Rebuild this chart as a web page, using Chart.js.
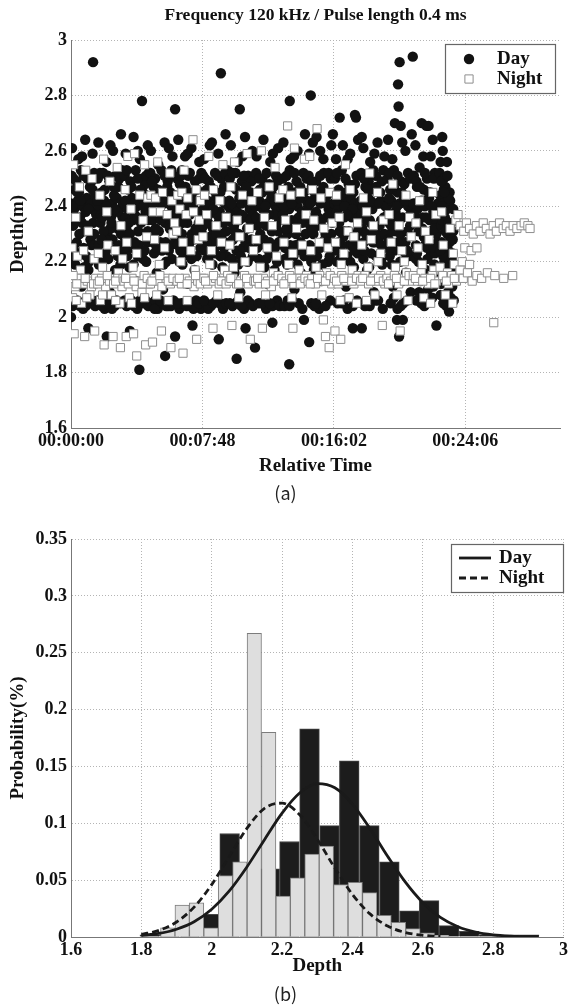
<!DOCTYPE html>
<html>
<head>
<meta charset="utf-8">
<title>Depth distribution</title>
<script src="https://cdn.jsdelivr.net/npm/chart.js@4.4.1/dist/chart.umd.min.js"></script>
<style>
  html, body { margin: 0; padding: 0; background: #fff; }
  body { width: 571px; height: 1008px; position: relative; overflow: hidden; }
  .panel { position: absolute; left: 0; width: 571px; }
  #wrapA { top: 0; height: 500px; }
  #wrapB { top: 500px; height: 508px; }
  .tag { position: absolute; left: 0; width: 571px; text-align: center; line-height: 20px;
         font-family: "Noto Sans CJK KR", "Noto Sans", sans-serif; font-size: 18px; color: #222; }
</style>
</head>
<body>
<div class="panel" id="wrapA"><canvas id="scatterChart"></canvas></div>
<div class="panel" id="wrapB"><canvas id="histChart"></canvas></div>
<div class="tag" style="top:482px">(a)</div>
<div class="tag" style="top:983px">(b)</div>

<script>
// ---- (a) echo depth over time ----
const timeTickPos = [0, 250, 500, 750];
const timeTickLabels = ['00:00:00', '00:07:48', '00:16:02', '00:24:06'];

// [time, depth]
const dayPoints = [
  [2,2.61],[14,2.57],[27,2.64],[41,2.59],[1,2.51],[10,2.49],[19,2.53],[31,2.50],[44,2.52],[7,2.46],[36,2.47],
  [0,2.41],[6,2.39],[13,2.42],[22,2.40],[30,2.43],[38,2.41],[47,2.38],[4,2.33],[17,2.36],[26,2.31],[42,2.34],
  [0,2.22],[11,2.27],[24,2.25],[37,2.28],[8,2.19],[33,2.17],[20,2.11],[0,2.00],[3,2.04],[12,2.06],[23,2.03],
  [35,2.05],[46,2.04],[33,1.96],[42,2.92],
  [5,2.37],[16,2.30],[28,2.38],[39,2.26],[46,2.44],[9,2.23],[21,2.34],[34,2.20],[44,2.30],[15,2.45],[25,2.18],
  [8,2.05],[29,2.06],
  [3,2.40],[18,2.42],[33,2.39],[5,2.50],[24,2.51],[39,2.49],[12,2.45],[41,2.46],[10,2.35],[31,2.33],[48,2.37],
  [6,2.24],[29,2.22],[45,2.26],[17,2.04],[28,2.04],[40,2.06],[21,2.58],
  [52,2.63],[67,2.56],[80,2.60],[95,2.66],[51,2.50],[61,2.52],[73,2.49],[85,2.51],[97,2.53],[58,2.45],[90,2.47],
  [54,2.40],[63,2.42],[70,2.38],[78,2.41],[87,2.43],[93,2.39],[99,2.41],[56,2.34],[69,2.30],[76,2.36],[89,2.32],
  [53,2.26],[65,2.23],[79,2.28],[96,2.24],[60,2.20],[84,2.17],[74,2.09],[55,2.05],[64,2.03],[72,2.06],[83,2.04],
  [94,2.05],[68,1.93],
  [57,2.37],[66,2.28],[75,2.32],[82,2.44],[91,2.26],[98,2.36],[53,2.19],[62,2.31],[71,2.21],[88,2.38],[94,2.19],
  [59,2.04],[78,2.03],
  [50,2.42],[67,2.40],[83,2.39],[55,2.52],[70,2.51],[92,2.50],[64,2.46],[81,2.47],[60,2.36],[77,2.34],[95,2.30],
  [58,2.28],[74,2.25],[89,2.22],[51,2.06],[68,2.05],[87,2.06],[75,2.62],
  [104,2.59],[119,2.65],[131,2.57],[146,2.62],[135,2.78],[102,2.51],[113,2.49],[123,2.53],[136,2.50],[148,2.52],
  [109,2.46],[141,2.48],[101,2.41],[108,2.39],[116,2.43],[125,2.40],[133,2.42],[142,2.38],[149,2.41],[105,2.32],
  [118,2.35],[128,2.31],[139,2.36],[103,2.28],[114,2.25],[127,2.22],[145,2.27],[111,2.18],[137,2.21],[124,2.13],
  [106,2.04],[115,2.06],[126,2.03],[138,2.05],[147,2.04],[130,1.81],[112,1.95],
  [104,2.36],[112,2.30],[121,2.37],[129,2.26],[137,2.45],[146,2.31],[107,2.22],[119,2.19],[133,2.34],[143,2.20],
  [149,2.37],[110,2.05],[131,2.06],
  [103,2.42],[120,2.41],[138,2.40],[106,2.53],[127,2.50],[143,2.51],[115,2.47],[132,2.46],[110,2.34],[126,2.36],
  [147,2.35],[101,2.25],[121,2.27],[140,2.24],[102,2.06],[120,2.04],[142,2.06],[127,2.60],
  [152,2.60],[166,2.55],[178,2.63],[193,2.58],[198,2.75],[151,2.52],[160,2.50],[172,2.53],[184,2.49],[196,2.51],
  [157,2.47],[189,2.45],[153,2.42],[161,2.40],[168,2.38],[176,2.41],[183,2.43],[191,2.40],[199,2.39],[155,2.35],
  [167,2.31],[179,2.34],[194,2.36],[158,2.23],[170,2.27],[186,2.24],[197,2.29],[163,2.16],[181,2.20],[175,2.10],
  [154,2.05],[165,2.03],[174,2.05],[185,2.04],[195,2.06],[179,1.86],[198,1.93],
  [152,2.29],[159,2.37],[171,2.35],[180,2.27],[188,2.32],[197,2.44],[163,2.25],[176,2.19],[186,2.37],[192,2.21],
  [155,2.44],[160,2.06],[181,2.04],
  [157,2.41],[172,2.43],[187,2.41],[154,2.49],[178,2.51],[191,2.53],[166,2.46],[183,2.47],[161,2.32],[175,2.36],
  [199,2.33],[156,2.27],[173,2.24],[190,2.26],[159,2.03],[170,2.06],[190,2.04],[186,2.61],
  [204,2.64],[217,2.58],[229,2.61],[244,2.56],[202,2.50],[211,2.53],[223,2.51],[236,2.49],[248,2.52],[207,2.48],
  [240,2.46],[201,2.41],[209,2.43],[216,2.39],[225,2.42],[232,2.40],[241,2.38],[249,2.42],[205,2.33],[219,2.36],
  [230,2.30],[243,2.34],[203,2.26],[214,2.22],[227,2.28],[246,2.25],[212,2.19],[235,2.17],[222,2.12],[206,2.03],
  [215,2.05],[226,2.04],[238,2.06],[247,2.03],[231,1.97],
  [203,2.37],[211,2.30],[221,2.34],[229,2.21],[237,2.32],[245,2.38],[206,2.20],[218,2.25],[233,2.28],[248,2.31],
  [214,2.45],[210,2.05],[233,2.03],
  [205,2.41],[221,2.40],[237,2.42],[209,2.51],[226,2.52],[244,2.50],[218,2.47],[231,2.45],[212,2.34],[226,2.37],
  [240,2.31],[208,2.24],[224,2.26],[239,2.22],[202,2.05],[220,2.04],[243,2.05],[222,2.59],
  [253,2.57],[268,2.63],[280,2.59],[294,2.66],[285,2.88],[251,2.51],[262,2.49],[274,2.52],[286,2.50],[298,2.53],
  [258,2.46],[291,2.47],[252,2.39],[260,2.42],[267,2.40],[276,2.43],[283,2.38],[292,2.41],[299,2.40],[256,2.36],
  [270,2.32],[282,2.35],[295,2.31],[254,2.24],[265,2.29],[279,2.26],[296,2.22],[261,2.21],[288,2.18],[273,2.14],
  [281,1.92],[257,2.05],[266,2.04],[277,2.06],[289,2.03],
  [252,2.33],[262,2.37],[271,2.27],[278,2.37],[287,2.30],[297,2.36],[259,2.21],[269,2.19],[284,2.22],[293,2.27],
  [275,2.45],[261,2.03],[283,2.05],
  [256,2.41],[271,2.39],[288,2.42],[255,2.50],[279,2.51],[293,2.52],[266,2.47],[284,2.45],[261,2.34],[276,2.30],
  [290,2.34],[258,2.27],[274,2.23],[291,2.25],[253,2.06],[271,2.05],[295,2.05],[264,2.62],
  [304,2.62],[317,2.56],[331,2.65],[345,2.60],[321,2.75],[302,2.50],[313,2.52],[325,2.49],[337,2.51],[348,2.50],
  [309,2.47],[342,2.45],[301,2.42],[308,2.40],[316,2.38],[324,2.41],[333,2.43],[340,2.39],[349,2.41],[306,2.34],
  [319,2.30],[330,2.36],[344,2.33],[303,2.27],[315,2.24],[328,2.29],[346,2.22],[311,2.16],[336,2.20],[322,2.09],
  [307,2.04],[318,2.06],[329,2.03],[341,2.05],[315,1.85],[332,1.96],
  [302,2.37],[311,2.31],[320,2.35],[327,2.25],[335,2.32],[346,2.37],[306,2.21],[318,2.19],[332,2.27],[343,2.28],
  [325,2.45],[313,2.05],[336,2.06],
  [305,2.41],[320,2.43],[338,2.41],[307,2.52],[329,2.51],[343,2.49],[314,2.46],[333,2.47],[310,2.33],[325,2.37],
  [341,2.35],[308,2.28],[323,2.22],[339,2.25],[302,2.05],[324,2.04],[346,2.04],[326,2.58],
  [353,2.58],[366,2.64],[379,2.56],[394,2.61],[352,2.52],[364,2.50],[377,2.48],[390,2.51],[359,2.46],[385,2.47],
  [351,2.40],[358,2.42],[365,2.39],[373,2.41],[381,2.43],[389,2.40],[398,2.38],[355,2.33],[369,2.36],[382,2.31],
  [396,2.35],[354,2.25],[367,2.28],[380,2.23],[395,2.27],[362,2.20],[387,2.17],[374,2.12],[357,2.05],[371,2.03],
  [392,2.06],[350,1.89],[383,1.98],
  [352,2.36],[360,2.30],[371,2.33],[378,2.27],[386,2.37],[394,2.31],[357,2.21],[368,2.18],[376,2.24],[392,2.20],
  [364,2.45],[383,2.04],
  [355,2.41],[370,2.40],[387,2.42],[358,2.50],[372,2.52],[393,2.49],[366,2.47],[381,2.45],[362,2.34],[375,2.37],
  [390,2.33],[359,2.26],[372,2.21],[388,2.25],[363,2.05],[378,2.05],[397,2.04],[384,2.59],
  [404,2.63],[418,2.57],[431,2.60],[445,2.66],[416,2.78],[403,2.50],[416,2.53],[429,2.49],[442,2.52],[409,2.45],
  [436,2.47],[401,2.41],[408,2.43],[415,2.39],[423,2.42],[431,2.40],[439,2.38],[448,2.42],[405,2.35],[419,2.32],
  [433,2.36],[446,2.30],[402,2.28],[414,2.24],[427,2.26],[444,2.22],[411,2.19],[437,2.16],[425,2.10],[406,2.04],
  [421,2.06],[440,2.03],[415,1.83],[443,1.99],
  [403,2.37],[412,2.30],[420,2.35],[428,2.30],[437,2.27],[445,2.37],[407,2.21],[417,2.26],[431,2.19],[442,2.25],
  [425,2.45],[412,2.06],
  [405,2.40],[420,2.41],[435,2.43],[410,2.51],[425,2.52],[448,2.50],[413,2.47],[443,2.45],[410,2.32],[425,2.34],
  [440,2.34],[407,2.25],[423,2.22],[436,2.24],[416,2.04],[433,2.05],[424,2.58],
  [453,2.59],[467,2.65],[480,2.57],[495,2.62],[456,2.80],[460,2.63],[452,2.51],[466,2.49],[481,2.52],[494,2.50],
  [458,2.47],[487,2.44],[451,2.40],[459,2.42],[466,2.38],[474,2.41],[482,2.43],[490,2.39],[499,2.41],[455,2.33],
  [470,2.36],[484,2.30],[497,2.34],[454,2.26],[468,2.22],[483,2.28],[496,2.25],[462,2.17],[489,2.20],[476,2.13],
  [457,2.05],[472,2.03],[493,2.06],[453,1.91],[498,2.66],
  [452,2.36],[461,2.30],[469,2.33],[478,2.27],[486,2.36],[495,2.30],[457,2.20],[466,2.25],[478,2.19],[492,2.22],
  [471,2.45],[463,2.04],
  [455,2.41],[471,2.43],[486,2.41],[457,2.49],[474,2.51],[490,2.52],[463,2.45],[480,2.47],[459,2.31],[475,2.34],
  [491,2.37],[460,2.23],[474,2.25],[488,2.27],[466,2.05],[484,2.04],[474,2.60],
  [504,2.57],[517,2.62],[531,2.59],[546,2.64],[511,2.72],[540,2.73],[542,2.72],[553,2.65],[502,2.50],[515,2.53],
  [528,2.48],[543,2.51],[509,2.46],[537,2.45],[501,2.41],[508,2.39],[516,2.42],[524,2.40],[532,2.43],[540,2.41],
  [548,2.38],[506,2.35],[520,2.31],[534,2.36],[547,2.32],[503,2.24],[518,2.29],[529,2.26],[545,2.23],[512,2.21],
  [538,2.18],[523,2.11],[536,1.96],[553,1.96],[507,2.05],[526,2.03],[544,2.06],
  [503,2.37],[511,2.31],[520,2.36],[528,2.31],[537,2.26],[546,2.36],[506,2.20],[515,2.26],[531,2.20],[541,2.28],
  [522,2.45],[515,2.05],
  [505,2.42],[520,2.40],[536,2.39],[506,2.52],[522,2.50],[540,2.48],[513,2.44],[531,2.47],[510,2.34],[525,2.37],
  [542,2.30],[509,2.27],[525,2.22],[539,2.24],[519,2.06],[536,2.04],[526,2.57],
  [556,2.61],[569,2.56],[583,2.63],[596,2.58],[552,2.52],[566,2.49],[580,2.51],[594,2.53],[560,2.47],[588,2.45],
  [551,2.42],[558,2.40],[565,2.43],[573,2.39],[581,2.41],[589,2.42],[598,2.40],[554,2.32],[568,2.35],[582,2.30],
  [595,2.36],[557,2.27],[571,2.23],[585,2.28],[597,2.25],[563,2.17],[590,2.21],[576,2.09],[586,2.14],[559,2.04],
  [578,2.06],[593,2.03],
  [552,2.37],[561,2.30],[570,2.34],[578,2.27],[587,2.33],[596,2.30],[556,2.21],[567,2.18],[580,2.22],[592,2.19],
  [575,2.46],[568,2.04],
  [555,2.40],[570,2.42],[586,2.41],[557,2.50],[575,2.53],[591,2.49],[565,2.46],[580,2.47],[561,2.35],[575,2.31],
  [590,2.35],[558,2.24],[574,2.27],[590,2.26],[566,2.05],[584,2.06],[577,2.59],
  [603,2.64],[616,2.70],[622,2.84],[625,2.92],[623,2.76],[627,2.69],[636,2.60],[648,2.66],[611,2.57],[602,2.50],
  [614,2.53],[628,2.49],[641,2.52],[607,2.46],[634,2.48],[601,2.40],[609,2.42],[617,2.38],[625,2.41],[633,2.43],
  [641,2.40],[649,2.39],[605,2.34],[619,2.31],[631,2.36],[645,2.33],[604,2.28],[615,2.24],[629,2.27],[643,2.22],
  [610,2.19],[637,2.16],[612,2.11],[630,2.13],[646,2.09],[608,2.05],[621,2.03],[639,2.06],[620,1.99],[631,1.99],
  [624,1.93],
  [602,2.37],[611,2.31],[620,2.35],[627,2.30],[636,2.27],[645,2.37],[606,2.22],[616,2.15],[626,2.20],[640,2.24],
  [621,2.45],[632,2.05],
  [605,2.43],[620,2.40],[636,2.42],[606,2.52],[621,2.51],[645,2.50],[614,2.47],[629,2.45],[609,2.33],[624,2.36],
  [640,2.31],[606,2.25],[622,2.27],[636,2.23],[614,2.07],[627,2.04],[630,2.63],
  [650,2.94],[667,2.70],[676,2.69],[680,2.69],[655,2.62],[670,2.58],[688,2.64],[652,2.51],[663,2.54],[677,2.50],
  [692,2.52],[658,2.47],[684,2.45],[651,2.41],[659,2.39],[666,2.42],[673,2.40],[681,2.43],[689,2.38],[698,2.41],
  [654,2.36],[668,2.32],[682,2.35],[695,2.30],[656,2.26],[671,2.29],[685,2.23],[697,2.27],[661,2.20],[675,2.17],
  [691,2.19],[664,2.13],[679,2.10],[694,2.15],[657,2.06],[672,2.04],[687,2.07],[695,1.97],
  [652,2.37],[661,2.31],[669,2.36],[677,2.25],[686,2.31],[696,2.34],[656,2.21],[667,2.16],[678,2.21],[692,2.23],
  [671,2.46],[662,2.09],[689,2.11],
  [655,2.41],[670,2.42],[686,2.40],[657,2.49],[673,2.52],[690,2.50],[664,2.47],[680,2.45],[660,2.34],[675,2.36],
  [691,2.32],[658,2.23],[673,2.26],[690,2.25],[666,2.05],[682,2.06],[684,2.58],
  [706,2.65],[707,2.60],[703,2.56],[701,2.52],[712,2.47],[709,2.50],[702,2.44],[708,2.41],[715,2.39],[721,2.42],
  [711,2.36],[704,2.33],[716,2.30],[723,2.34],[705,2.27],[718,2.24],[726,2.28],[710,2.20],[722,2.17],[713,2.14],
  [725,2.11],[703,2.08],[714,2.04],[719,2.02],[728,2.06],
  [703,2.37],[712,2.31],[720,2.27],[708,2.22],[716,2.18],[724,2.21],[704,2.12],[717,2.09],[709,2.46],[720,2.45],
  [705,2.40],[718,2.43],[727,2.39],[704,2.49],[716,2.51],[710,2.45],[706,2.35],[718,2.34],[727,2.31],[702,2.24],
  [713,2.26],[726,2.23],[708,2.05],[722,2.07],[715,2.56]
];

const nightPoints = [
  [5,2.55],[28,2.53],[16,2.47],[40,2.50],[9,2.36],[33,2.31],[2,2.25],[12,2.22],[24,2.24],[44,2.21],[18,2.17],
  [1,2.13],[8,2.11],[15,2.14],[23,2.12],[31,2.13],[39,2.11],[47,2.14],[3,2.07],[20,2.05],[36,2.08],[6,1.94],
  [26,1.93],[45,1.95],[4,2.15],[11,2.12],[27,2.14],[43,2.12],[10,2.06],[30,2.07],
  [62,2.57],[88,2.54],[74,2.49],[55,2.44],[68,2.38],[95,2.33],[52,2.23],[70,2.26],[84,2.24],[98,2.21],[60,2.18],
  [90,2.16],[51,2.12],[58,2.14],[66,2.11],[73,2.13],[81,2.12],[89,2.14],[97,2.11],[56,2.06],[77,2.08],[93,2.05],
  [63,1.90],[80,1.93],[94,1.89],[54,2.13],[69,2.15],[85,2.13],[99,2.14],[60,2.08],[85,2.06],
  [108,2.58],[121,2.59],[140,2.55],[103,2.46],[131,2.44],[146,2.43],[114,2.39],[137,2.35],[106,2.27],[125,2.23],
  [144,2.29],[118,2.18],[101,2.13],[109,2.12],[116,2.14],[124,2.11],[132,2.13],[139,2.15],[148,2.12],[111,2.07],
  [135,2.09],[105,1.93],[125,1.86],[142,1.90],[119,1.94],[104,2.14],[120,2.13],[136,2.12],[145,2.14],[115,2.05],
  [140,2.07],
  [165,2.56],[188,2.52],[152,2.44],[161,2.43],[174,2.45],[192,2.42],[156,2.38],[170,2.38],[183,2.37],[197,2.34],
  [159,2.28],[178,2.25],[194,2.30],[168,2.19],[151,2.12],[158,2.14],[166,2.13],[173,2.11],[181,2.14],[189,2.12],
  [198,2.13],[163,2.08],[185,2.06],[155,1.91],[172,1.95],[190,1.89],[154,2.13],[169,2.15],[185,2.13],[194,2.14],
  [232,2.64],[215,2.53],[203,2.44],[211,2.45],[222,2.43],[238,2.46],[246,2.42],[207,2.39],[219,2.37],[233,2.38],
  [244,2.35],[201,2.31],[213,2.27],[228,2.24],[242,2.28],[209,2.20],[236,2.17],[202,2.13],[210,2.12],[217,2.14],
  [225,2.13],[234,2.11],[241,2.13],[249,2.14],[221,2.06],[213,1.87],[239,1.92],[206,2.14],[221,2.12],[237,2.15],
  [246,2.12],
  [262,2.58],[289,2.55],[254,2.44],[271,2.46],[283,2.42],[258,2.37],[276,2.33],[295,2.36],[251,2.29],[267,2.24],
  [286,2.27],[264,2.19],[292,2.17],[253,2.14],[260,2.12],[268,2.13],[275,2.14],[282,2.12],[290,2.13],[298,2.15],
  [279,2.08],[270,1.96],[256,2.13],[271,2.15],[286,2.13],[295,2.12],
  [311,2.56],[335,2.59],[304,2.47],[326,2.44],[344,2.42],[316,2.35],[339,2.32],[302,2.26],[321,2.29],[347,2.24],
  [309,2.18],[331,2.20],[301,2.13],[308,2.14],[315,2.12],[323,2.13],[330,2.15],[337,2.12],[345,2.14],[319,2.07],
  [306,1.97],[341,1.92],[304,2.14],[319,2.12],[334,2.14],[348,2.13],
  [362,2.60],[388,2.54],[355,2.45],[377,2.47],[396,2.43],[368,2.36],[383,2.33],[352,2.28],[373,2.25],[391,2.22],
  [360,2.18],[385,2.16],[351,2.13],[358,2.12],[366,2.14],[374,2.13],[381,2.11],[389,2.14],[397,2.13],[370,2.08],
  [364,1.96],[355,2.14],[370,2.12],[385,2.13],[394,2.15],
  [412,2.69],[425,2.61],[444,2.57],[403,2.46],[418,2.44],[436,2.45],[408,2.35],[429,2.32],[447,2.37],[405,2.27],
  [422,2.23],[440,2.26],[414,2.19],[434,2.17],[401,2.14],[409,2.13],[416,2.15],[424,2.12],[432,2.14],[439,2.13],
  [448,2.15],[420,2.07],[422,1.96],[405,2.12],[420,2.14],[436,2.12],[445,2.14],
  [468,2.68],[454,2.58],[459,2.46],[475,2.43],[492,2.45],[462,2.35],[481,2.32],[497,2.34],[456,2.24],[472,2.27],
  [489,2.25],[466,2.18],[486,2.16],[451,2.13],[458,2.14],[465,2.12],[473,2.15],[480,2.13],[488,2.14],[496,2.12],
  [477,2.08],[480,1.99],[484,1.93],[491,1.89],[455,2.12],[469,2.14],[484,2.13],[493,2.15],
  [522,2.55],[505,2.44],[531,2.46],[510,2.36],[527,2.31],[545,2.34],[503,2.27],[519,2.23],[538,2.29],[514,2.19],
  [535,2.17],[501,2.14],[508,2.12],[515,2.15],[523,2.13],[530,2.14],[538,2.12],[546,2.15],[512,2.06],[529,2.07],
  [543,2.05],[502,1.95],[513,1.92],[505,2.13],[519,2.14],[534,2.13],[543,2.14],
  [568,2.52],[556,2.43],[583,2.45],[562,2.38],[575,2.33],[594,2.35],[553,2.26],[571,2.28],[589,2.23],[565,2.18],
  [584,2.20],[551,2.13],[559,2.15],[566,2.12],[574,2.14],[581,2.13],[589,2.15],[597,2.12],[562,2.06],[578,2.08],
  [592,1.97],[555,2.14],[570,2.13],[585,2.14],[594,2.13],
  [612,2.48],[637,2.44],[605,2.37],[624,2.33],[644,2.36],[609,2.27],[629,2.24],[647,2.29],[617,2.18],[634,2.20],
  [601,2.14],[608,2.13],[615,2.15],[623,2.12],[630,2.14],[638,2.16],[646,2.13],[620,2.08],[641,2.06],[626,1.95],
  [604,2.12],[619,2.14],[634,2.13],[643,2.15],
  [663,2.42],[688,2.45],[656,2.34],[674,2.31],[694,2.37],[660,2.25],[681,2.28],[668,2.19],[690,2.17],[651,2.15],
  [659,2.13],[666,2.16],[673,2.14],[680,2.12],[687,2.15],[695,2.13],[671,2.07],[684,2.05],[655,2.14],[669,2.13],
  [684,2.14],[692,2.12],
  [705,2.38],[721,2.32],[732,2.35],[708,2.26],[727,2.23],[702,2.18],[716,2.16],[729,2.19],[711,2.14],[718,2.12],
  [724,2.15],[733,2.13],[712,2.08],[726,2.05],[707,2.15],[714,2.13],[729,2.14],
  [736,2.37],[740,2.33],[747,2.31],[752,2.34],[758,2.32],[765,2.30],[771,2.33],[778,2.31],[784,2.34],[790,2.32],
  [797,2.30],[803,2.33],[809,2.31],[815,2.34],[822,2.32],[828,2.33],[835,2.31],[841,2.33],[848,2.32],[856,2.33],
  [862,2.34],[869,2.33],[873,2.32],[749,2.25],[761,2.24],[772,2.25],[740,2.17],[746,2.14],[754,2.16],[763,2.13],
  [772,2.15],[781,2.14],[792,2.16],[806,2.15],[823,2.14],[840,2.15],[744,2.20],[758,2.19],[804,1.98]
];

// ---- (b) depth histograms with fitted curves ----
const dayBinCenters = [1.824, 1.881, 1.938, 1.995, 2.051, 2.108, 2.165, 2.221, 2.278, 2.335,
                       2.391, 2.448, 2.505, 2.562, 2.618, 2.675, 2.732, 2.788, 2.845, 2.902];
const dayProb = [0.002, 0.004, 0.006, 0.020, 0.091, 0.045, 0.060, 0.084, 0.183, 0.098,
                 0.155, 0.098, 0.066, 0.023, 0.032, 0.010, 0.005, 0.002, 0.002, 0.002];

const nightBinCenters = [1.875, 1.916, 1.957, 1.998, 2.039, 2.080, 2.121, 2.162, 2.203, 2.244,
                         2.285, 2.326, 2.367, 2.408, 2.449, 2.490, 2.531, 2.572, 2.613, 2.654];
const nightProb = [0.008, 0.028, 0.030, 0.008, 0.054, 0.066, 0.267, 0.180, 0.036, 0.052,
                   0.073, 0.080, 0.046, 0.048, 0.039, 0.019, 0.013, 0.0074, 0.0036, 0.0015];

const dayFitDepth = [1.80, 1.85, 1.90, 1.95, 2.00, 2.05, 2.10, 2.15, 2.20, 2.25, 2.30, 2.35,
                     2.40, 2.45, 2.50, 2.55, 2.60, 2.65, 2.70, 2.75, 2.80, 2.85, 2.90, 2.93];
const dayFit = [0.0013, 0.0031, 0.0068, 0.0134, 0.0244, 0.0405, 0.0616, 0.0856, 0.1089, 0.1266, 0.1348, 0.1312,
                0.1169, 0.0953, 0.0710, 0.0484, 0.0302, 0.0172, 0.0090, 0.0043, 0.0019, 0.0008, 0.0003, 0.0002];

const nightFitDepth = [1.80, 1.85, 1.90, 1.95, 2.00, 2.05, 2.10, 2.15, 2.20, 2.25,
                       2.30, 2.35, 2.40, 2.45, 2.50, 2.55, 2.60, 2.65];
const nightFit = [0.0023, 0.0058, 0.0132, 0.0263, 0.0461, 0.0709, 0.0955, 0.1132, 0.1177, 0.1075,
                  0.0861, 0.0606, 0.0374, 0.0203, 0.0097, 0.0040, 0.0015, 0.0005];

const serif = "'Liberation Serif', 'Times New Roman', serif";
const tickFont = { family: serif, size: 18, weight: 'bold' };
const titleFont = { family: serif, size: 19, weight: 'bold' };
const gridColor = '#b4b4b4';
const axisColor = '#777';

const plotTitle = {
  id: 'plotTitle',
  afterDraw(chart, args, opts) {
    if (!opts.text) return;
    const { ctx, chartArea } = chart;
    ctx.save();
    ctx.font = `bold ${opts.size}px ${serif}`;
    ctx.fillStyle = '#111';
    ctx.textAlign = 'center';
    ctx.textBaseline = 'middle';
    ctx.fillText(opts.text, (chartArea.left + chartArea.right) / 2, opts.y);
    ctx.restore();
  }
};

// legend in a framed box inside the plot, like the MATLAB one
const boxLegend = {
  id: 'boxLegend',
  afterDraw(chart, args, opts) {
    const ctx = chart.ctx;
    ctx.save();
    ctx.fillStyle = '#fff';
    ctx.fillRect(opts.left, opts.top, opts.width, opts.height);
    ctx.strokeStyle = '#666';
    ctx.lineWidth = 1.2;
    ctx.strokeRect(opts.left + 0.5, opts.top + 0.5, opts.width, opts.height);
    ctx.font = `bold ${opts.size}px ${serif}`;
    ctx.textBaseline = 'middle';
    chart.data.datasets.filter(ds => ds.inLegend).forEach((ds, i) => {
      const y = opts.top + opts.firstRow + i * opts.rowGap;
      const mx = opts.left + opts.markerX;
      if (ds.type === 'line') {
        ctx.beginPath();
        ctx.setLineDash(ds.borderDash || []);
        ctx.lineWidth = ds.borderWidth;
        ctx.strokeStyle = ds.borderColor;
        ctx.moveTo(mx - opts.lineHalf, y);
        ctx.lineTo(mx + opts.lineHalf, y);
        ctx.stroke();
        ctx.setLineDash([]);
      } else {
        ctx.fillStyle = ds.backgroundColor;
        ctx.strokeStyle = ds.borderColor;
        ctx.lineWidth = ds.borderWidth || 1;
        Chart.helpers.drawPoint(ctx, { pointStyle: ds.pointStyle, radius: ds.pointRadius, borderWidth: ds.borderWidth || 0 }, mx, y);
      }
      ctx.fillStyle = '#111';
      ctx.fillText(ds.label, opts.left + opts.textX, y);
    });
    ctx.restore();
  }
};

const numLabel = v => String(+Number(v).toFixed(2));

new Chart(document.getElementById('scatterChart'), {
  type: 'scatter',
  data: {
    datasets: [
      {
        label: 'Day', inLegend: true,
        data: dayPoints.map(p => ({ x: p[0], y: p[1] })),
        pointStyle: 'circle', pointRadius: 5.2,
        backgroundColor: '#121212', borderColor: '#121212', borderWidth: 0,
        order: 1
      },
      {
        label: 'Night', inLegend: true,
        data: nightPoints.map(p => ({ x: p[0], y: p[1] })),
        pointStyle: 'rect', pointRadius: 5.8,
        backgroundColor: '#fff', borderColor: '#8e8e8e', borderWidth: 1,
        order: 0
      }
    ]
  },
  options: {
    responsive: true,
    maintainAspectRatio: false,
    animation: false,
    events: [],
    layout: { padding: { top: 40, right: 11, left: 0, bottom: 0 } },
    scales: {
      x: {
        type: 'linear', min: 0, max: 930,
        afterBuildTicks: s => { s.ticks = timeTickPos.map(v => ({ value: v })); },
        afterFit: s => { s.height = 72; },
        ticks: { callback: (v, i) => timeTickLabels[i], font: tickFont, color: '#111', padding: 3, maxRotation: 0, autoSkip: false },
        grid: { color: gridColor, drawTicks: false },
        border: { color: axisColor, dash: [1, 2] },
        title: { display: true, text: 'Relative Time', font: titleFont, color: '#111', padding: { top: 0, bottom: 23 } }
      },
      y: {
        min: 1.6, max: 3,
        afterFit: s => { s.width = 71; },
        ticks: { stepSize: 0.2, callback: numLabel, font: tickFont, color: '#111', padding: 4 },
        grid: { color: gridColor, drawTicks: false },
        border: { color: axisColor, dash: [1, 2] },
        title: { display: true, text: 'Depth(m)', font: titleFont, color: '#111', padding: { top: 7, bottom: 0 } }
      }
    },
    plugins: {
      legend: { display: false },
      tooltip: { enabled: false },
      plotTitle: { text: 'Frequency 120 kHz / Pulse length 0.4 ms', size: 17.5, y: 15 },
      boxLegend: { left: 445, top: 44, width: 110, height: 49, size: 19, firstRow: 15, rowGap: 20, markerX: 24, textX: 52, lineHalf: 16 }
    }
  },
  plugins: [plotTitle, boxLegend]
});

new Chart(document.getElementById('histChart'), {
  type: 'bar',
  data: {
    datasets: [
      {
        type: 'line', label: 'Day', inLegend: true, xAxisID: 'x',
        data: dayFitDepth.map((d, i) => ({ x: d, y: dayFit[i] })),
        borderColor: '#1a1a1a', borderWidth: 2.8, pointRadius: 0,
        cubicInterpolationMode: 'monotone', order: 0
      },
      {
        type: 'line', label: 'Night', inLegend: true, xAxisID: 'x',
        data: nightFitDepth.map((d, i) => ({ x: d, y: nightFit[i] })),
        borderColor: '#1a1a1a', borderWidth: 2.8, borderDash: [7, 4], pointRadius: 0,
        cubicInterpolationMode: 'monotone', order: 0
      },
      {
        type: 'bar', label: 'Night bins', xAxisID: 'xNight', grouped: false,
        data: nightBinCenters.map((c, i) => ({ x: c, y: nightProb[i] })),
        backgroundColor: '#dedede', borderColor: '#7c7c7c', borderWidth: 1,
        barPercentage: 1, categoryPercentage: 1, order: 1
      },
      {
        type: 'bar', label: 'Day bins', xAxisID: 'x', grouped: false,
        data: dayBinCenters.map((c, i) => ({ x: c, y: dayProb[i] })),
        backgroundColor: '#1c1c1c', borderColor: '#474747', borderWidth: 1,
        barPercentage: 1, categoryPercentage: 1, order: 2
      }
    ]
  },
  options: {
    responsive: true,
    maintainAspectRatio: false,
    animation: false,
    events: [],
    layout: { padding: { top: 39, right: 5, left: 0, bottom: 0 } },
    scales: {
      x: {
        type: 'linear', min: 1.6, max: 3, offset: false,
        afterFit: s => { s.height = 71; },
        ticks: { stepSize: 0.2, callback: numLabel, font: tickFont, color: '#111', padding: 3, maxRotation: 0, autoSkip: false },
        grid: { color: gridColor, drawTicks: false, offset: false },
        border: { color: axisColor, dash: [1, 2] },
        title: { display: true, text: 'Depth', font: titleFont, color: '#111', padding: { top: 0, bottom: 31 } }
      },
      xNight: {
        type: 'linear', min: 1.6, max: 3, offset: false, display: false,
        ticks: { stepSize: 0.2 }
      },
      y: {
        min: 0, max: 0.35,
        afterFit: s => { s.width = 71; },
        ticks: { stepSize: 0.05, callback: numLabel, font: tickFont, color: '#111', padding: 4 },
        grid: { color: gridColor, drawTicks: false },
        border: { color: axisColor, dash: [1, 2] },
        title: { display: true, text: 'Probability(%)', font: titleFont, color: '#111', padding: { top: 7, bottom: 0 } }
      }
    },
    plugins: {
      legend: { display: false },
      tooltip: { enabled: false },
      boxLegend: { left: 451, top: 44, width: 112, height: 48, size: 19, firstRow: 14, rowGap: 20, markerX: 24, textX: 48, lineHalf: 16 }
    }
  },
  plugins: [boxLegend]
});
</script>
</body>
</html>
